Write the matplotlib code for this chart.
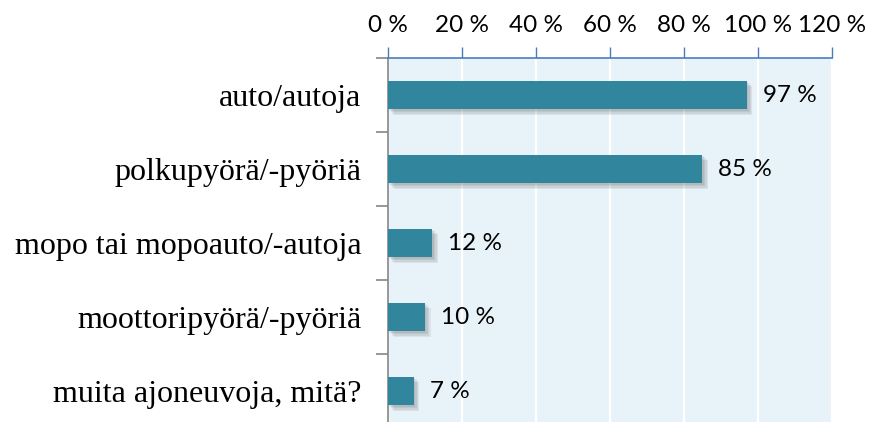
import matplotlib.pyplot as plt
import matplotlib.patheffects as pe
from matplotlib.ticker import FixedLocator

# Ajoneuvot kotitaloudessa (%)
categories = [
    "auto/autoja",
    "polkupyörä/-pyöriä",
    "mopo tai mopoauto/-autoja",
    "moottoripyörä/-pyöriä",
    "muita ajoneuvoja, mitä?",
]
values = [97, 85, 12, 10, 7]
xticks = [0, 20, 40, 60, 80, 100, 120]

BAR = "#31869d"
BAND = "#e8f3f9"
BLUE = "#4a7ebb"
GREY = "#868686"


def main():
    fig = plt.figure(figsize=(8.7, 4.22), dpi=100)
    ax = fig.add_axes([388 / 870, -6 / 422, 444 / 870, 370 / 422])
    ax.set_facecolor(BAND)

    ypos = list(range(len(categories)))
    bars = ax.barh(ypos, values, height=0.39, color=BAR, zorder=3)

    # pehmeä varjo palkkien alle
    shadow = [pe.SimplePatchShadow(offset=(k, -k), shadow_rgbFace="#404040", alpha=0.09)
              for k in (1, 2, 3, 4)]
    for b in bars:
        b.set_path_effects(shadow + [pe.Normal()])

    for y, v in zip(ypos, values):
        ax.annotate(f"{v} %", xy=(v, y), xytext=(11.5, 0), textcoords="offset points",
                    ha="left", va="center", fontsize=17.5, family="Lato", color="black")

    ax.set_xlim(0, 120)
    ax.set_ylim(len(categories) - 0.5, -0.5)

    # x-akseli ylhäällä
    ax.xaxis.tick_top()
    ax.set_xticks(xticks)
    ax.set_xticklabels([f"{t} %" for t in xticks], fontsize=17.5, family="Lato")
    ax.tick_params(axis="x", direction="out", length=8, width=1, color=BLUE, pad=8)
    ax.grid(axis="x", color="white", lw=1.6, zorder=1)
    ax.set_axisbelow(True)

    # luokat vasemmalla, jakoviivat luokkien välissä
    ax.set_yticks(ypos)
    ax.set_yticklabels(categories, fontsize=23, family="Liberation Serif")
    ax.tick_params(axis="y", which="major", length=0, pad=19)
    ax.yaxis.set_minor_locator(FixedLocator([i + 0.5 for i in range(-1, len(categories))]))
    ax.tick_params(axis="y", which="minor", direction="out", length=9, width=1.2, color=GREY)

    ax.spines["top"].set_color(BLUE)
    ax.spines["top"].set_linewidth(1.2)
    ax.spines["left"].set_color(GREY)
    ax.spines["left"].set_linewidth(1.2)
    ax.spines["right"].set_visible(False)
    ax.spines["bottom"].set_visible(False)

    fig.savefig("out.png", dpi=100)


if __name__ == "__main__":
    main()
